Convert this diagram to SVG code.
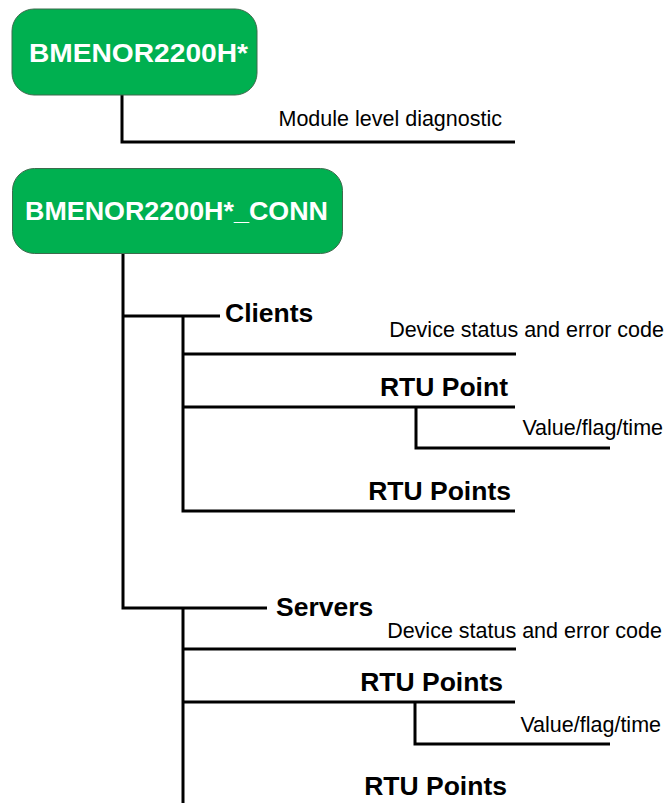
<svg xmlns="http://www.w3.org/2000/svg" width="666" height="803" viewBox="0 0 666 803">
<style>
.box{fill:#00b050;stroke:#3d6b4d;stroke-width:1}
.title{font-family:"Liberation Sans",Arial,sans-serif;font-weight:bold;font-size:26.5px;fill:#ffffff;text-anchor:middle}
.lbl{font-family:"Liberation Sans",Arial,sans-serif;font-weight:bold;font-size:26.5px;fill:#000000}
.txt{font-family:"Liberation Sans",Arial,sans-serif;font-size:21.5px;fill:#000000;text-anchor:end}
.end{text-anchor:end}
.ln{fill:none;stroke:#000000;stroke-width:3;stroke-linecap:butt;stroke-linejoin:miter}
</style>
<rect width="666" height="803" fill="#ffffff"/>
<g id="connectors">
<path class="ln" d="M122,95 V142 H515"/>
<path class="ln" d="M123,253 V608 H267"/>
<path class="ln" d="M123,316 H220"/>
<path class="ln" d="M183,316 V511 H515"/>
<path class="ln" d="M183,354 H516"/>
<path class="ln" d="M183,407 H515"/>
<path class="ln" d="M416,407 V448 H610"/>
<path class="ln" d="M183,608 V803"/>
<path class="ln" d="M183,649 H516"/>
<path class="ln" d="M183,702 H515"/>
<path class="ln" d="M415,702 V744 H610"/>
</g>
<g id="node-bmenor">
<rect class="box" x="12" y="9" width="245" height="86" rx="22" ry="22"/>
<text class="title" x="138.5" y="62" textLength="219" lengthAdjust="spacingAndGlyphs">BMENOR2200H*</text>
</g>
<g id="label-module">
<text class="txt" x="502" y="126">Module level diagnostic</text>
</g>
<g id="node-conn">
<rect class="box" x="12.5" y="168.5" width="330" height="85" rx="22" ry="22"/>
<text class="title" x="176.5" y="220" textLength="303" lengthAdjust="spacingAndGlyphs">BMENOR2200H*_CONN</text>
</g>
<g id="node-clients">
<text class="lbl" x="225" y="322">Clients</text>
<text class="txt" x="664" y="337">Device status and error code</text>
<text class="lbl end" x="508" y="396">RTU Point</text>
<text class="txt" x="663" y="435">Value/flag/time</text>
<text class="lbl end" x="511" y="500">RTU Points</text>
</g>
<g id="node-servers">
<text class="lbl" x="276" y="616">Servers</text>
<text class="txt" x="662" y="638">Device status and error code</text>
<text class="lbl end" x="503" y="691">RTU Points</text>
<text class="txt" x="661" y="732">Value/flag/time</text>
<text class="lbl end" x="507" y="795">RTU Points</text>
</g>
</svg>
